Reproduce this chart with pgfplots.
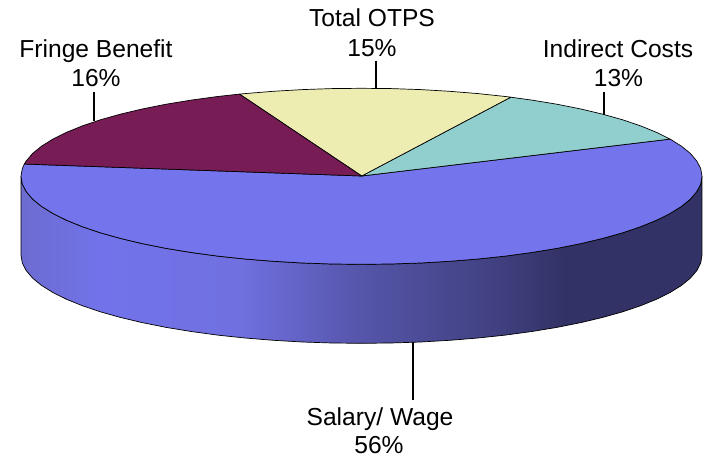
\documentclass[border=0pt]{standalone}
\usepackage{pgfplots}
\pgfplotsset{compat=1.18}
\usepackage{fontspec}
\setmainfont{Liberation Sans}
\definecolor{salary}{RGB}{116,117,236}
\definecolor{fringe}{RGB}{119,28,85}
\definecolor{otps}{RGB}{237,237,177}
\definecolor{indirect}{RGB}{145,207,207}
\definecolor{sa}{RGB}{108,108,208}
\definecolor{sb}{RGB}{114,115,234}
\definecolor{sc}{RGB}{112,112,224}
\definecolor{sd}{RGB}{85,85,170}
\definecolor{se}{RGB}{64,64,128}
\definecolor{sf}{RGB}{50,50,102}
\pgfdeclarehorizontalshading{sideshade}{100bp}{color(0bp)=(sa);color(25bp)=(sa);color(31bp)=(sb);color(41bp)=(sc);color(50bp)=(sd);color(60bp)=(se);color(65bp)=(sf);color(75bp)=(sf);color(100bp)=(sf)}
\begin{document}
\begin{tikzpicture}
\path[use as bounding box] (0,0) rectangle (706pt,457pt);
\begin{axis}[
  at={(0,0)}, anchor=south west,
  scale only axis, width=706pt, height=457pt,
  xmin=0, xmax=706, ymin=0, ymax=457, y dir=reverse,
  axis lines=none, clip=false,
  every axis plot/.append style={line join=round}
]
% side wall
\addplot[draw=black, line width=0.7pt, shading=sideshade] coordinates {
(21,176.3)(22.3,184)(26.2,191.6)(32.6,199.1)(41.5,206.4)(52.9,213.5)(66.6,220.3)(82.6,226.8)(100.7,232.9)(120.7,238.5)(142.6,243.7)(166.2,248.4)(191.25,252.5)(217.6,256.1)(245,259)(273.4,261.3)(302.4,263)(331.8,264)(361.5,264.3)(391.2,264)(420.6,263)(449.6,261.3)(478,259)(505.4,256.1)(531.8,252.5)(556.8,248.4)(580.4,243.7)(602.3,238.5)(622.3,232.9)(640.4,226.8)(656.4,220.3)(670.1,213.5)(681.5,206.4)(690.4,199.1)(696.8,191.6)(700.7,184)(702,176.3)
(702,255.3)(700.7,263)(696.8,270.6)(690.4,278.1)(681.5,285.4)(670.1,292.5)(656.4,299.3)(640.4,305.8)(622.3,311.9)(602.3,317.5)(580.4,322.7)(556.8,327.4)(531.8,331.5)(505.4,335.1)(478,338)(449.6,340.3)(420.6,342)(391.2,343)(361.5,343.3)(331.8,343)(302.4,342)(273.4,340.3)(245,338)(217.6,335.1)(191.25,331.5)(166.2,327.4)(142.6,322.7)(120.7,317.5)(100.7,311.9)(82.6,305.8)(66.6,299.3)(52.9,292.5)(41.5,285.4)(32.6,278.1)(26.2,270.6)(22.3,263)(21,255.3)
(21,176.3)};
% Salary/ Wage
\addplot[draw=black, line width=0.7pt, fill=salary] coordinates {
(361.7,176)(670.1,139.1)(681.5,146.2)(690.4,153.5)(696.8,161)(700.7,168.6)(702,176.3)(700.7,184)(696.8,191.6)(690.4,199.1)(681.5,206.4)(670.1,213.5)(656.4,220.3)(640.4,226.8)(622.3,232.9)(602.3,238.5)(580.4,243.7)(556.8,248.4)(531.8,252.5)(505.4,256.1)(478,259)(449.6,261.3)(420.6,263)(391.2,264)(361.5,264.3)(331.8,264)(302.4,263)(273.4,261.3)(245,259)(217.6,256.1)(191.25,252.5)(166.2,248.4)(142.6,243.7)(120.7,238.5)(100.7,232.9)(82.6,226.8)(66.6,220.3)(52.9,213.5)(41.5,206.4)(32.6,199.1)(26.2,191.6)(22.3,184)(21,176.3)(22.3,168.6)(24.3,164.05)(361.7,176)};
% Indirect Costs
\addplot[draw=black, line width=0.7pt, fill=indirect] coordinates {
(361.7,176)(510.8,97.2)(531.8,100.1)(556.8,104.2)(580.4,108.9)(602.3,114.1)(622.3,119.7)(640.4,125.8)(656.4,132.3)(670.1,139.1)(361.7,176)};
% Total OTPS
\addplot[draw=black, line width=0.7pt, fill=otps] coordinates {
(361.7,176)(239.5,94.1)(245,93.6)(273.4,91.3)(302.4,89.6)(331.8,88.6)(361.5,88.3)(391.2,88.6)(420.6,89.6)(449.6,91.3)(478,93.6)(505.4,96.5)(510.8,97.2)(361.7,176)};
% Fringe Benefit
\addplot[draw=black, line width=0.7pt, fill=fringe] coordinates {
(361.7,176)(24.3,164.05)(26.2,161)(32.6,153.5)(41.5,146.2)(52.9,139.1)(66.6,132.3)(82.6,125.8)(100.7,119.7)(120.7,114.1)(142.6,108.9)(166.2,104.2)(191.25,100.1)(217.6,96.5)(239.5,94.1)(361.7,176)};
% leader lines
\addplot[black, line width=1.3pt] coordinates {(94,92)(94,121)};
\addplot[black, line width=1.3pt] coordinates {(376,61)(376,88.3)};
\addplot[black, line width=1.3pt] coordinates {(604,92)(604,115)};
\addplot[black, line width=1.3pt] coordinates {(413,342)(413,400)};
% labels
\begin{scope}[every node/.style={anchor=base, inner sep=0pt, font=\fontsize{24.6}{28}\selectfont}]
\node at (axis cs:96,58) {Fringe Benefit};
\node at (axis cs:96,87) {16\%};
\node at (axis cs:372,27) {Total OTPS};
\node at (axis cs:372,57) {15\%};
\node at (axis cs:618,58) {Indirect Costs};
\node at (axis cs:618.5,87) {13\%};
\node at (axis cs:380,425) {Salary/ Wage};
\node at (axis cs:379,453) {56\%};
\end{scope}
\end{axis}
\end{tikzpicture}
\end{document}
